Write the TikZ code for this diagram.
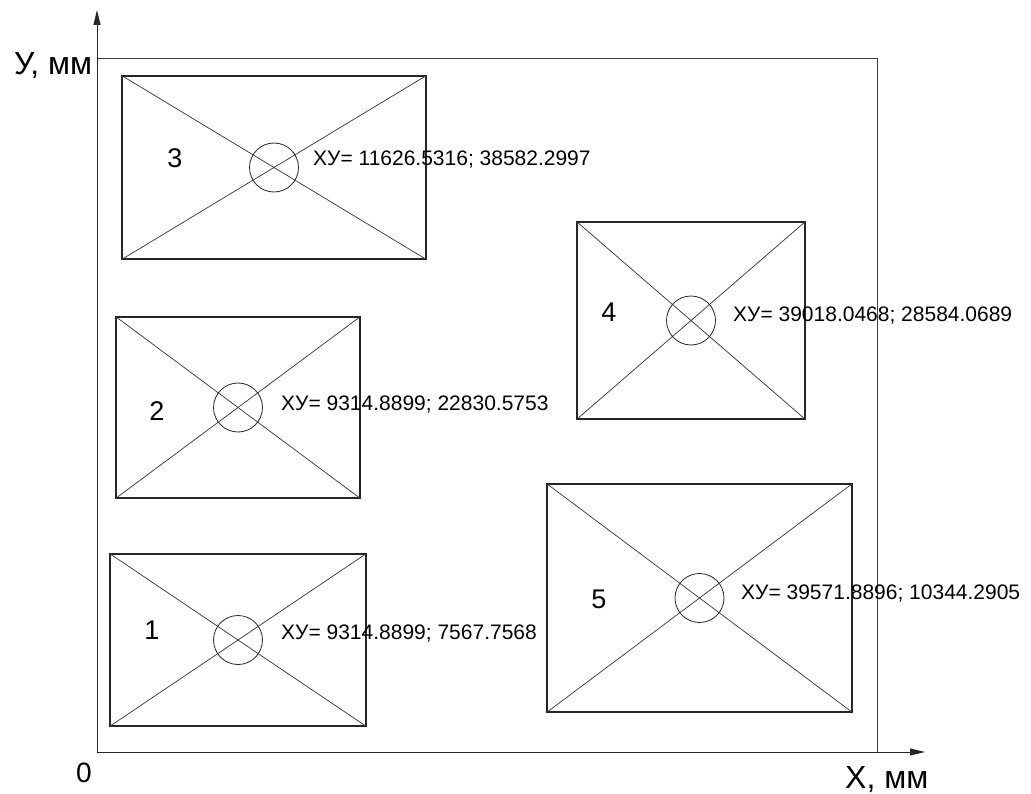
\documentclass[tikz,border=0pt]{standalone}
\usepackage{fontspec}
\setmainfont{Liberation Sans}
\usetikzlibrary{arrows.meta}

\begin{document}
\begin{tikzpicture}[x=1pt, y=-1pt, ->, >={Triangle[length=15pt,width=7pt]},
    zone/.style={draw, rectangle, inner sep=0pt, line width=1.2pt, black!85},
    hub/.style={draw, circle, inner sep=0pt, minimum size=49pt, line width=0.8pt, black!85},
    cross/.style={-, line width=0.7pt, black!80},
    num/.style={anchor=base, inner sep=0pt, font=\fontsize{27}{27}\selectfont},
    coord/.style={anchor=base west, inner sep=0pt, font=\fontsize{21}{21}\selectfont},
    axlabel/.style={anchor=base west, inner sep=0pt, font=\fontsize{32}{32}\selectfont}]
    \useasboundingbox (0,0) rectangle (1031,794);
    % axes and frame
    \coordinate (o) at (97,752);
    \coordinate (ytip) at (97,10);
    \coordinate (xtip) at (925,752);
    \coordinate (corner) at (877,58);
    \draw[-, line width=0.9pt, black!75] (o) rectangle (corner);
    \draw[line width=0.9pt, black!85] (o) -- (ytip);
    \draw[line width=0.9pt, black!85] (o) -- (xtip);
    \node[axlabel] (ylab) at (14,75) {У, мм};
    \node[axlabel] (xlab) at (845,788) {Х, мм};
    \node[axlabel, font=\fontsize{28}{28}\selectfont] (zero) at (76,782) {0};
    % zones
    \node[zone, minimum width=256pt, minimum height=172pt] (z1) at (238,640) {};
    \node[zone, minimum width=244pt, minimum height=181pt] (z2) at (238,407.5) {};
    \node[zone, minimum width=304pt, minimum height=183pt] (z3) at (274,167.5) {};
    \node[zone, minimum width=228pt, minimum height=197pt] (z4) at (691,320.5) {};
    \node[zone, minimum width=305pt, minimum height=228pt] (z5) at (699.5,598) {};
    \foreach \z in {z1,z2,z3,z4,z5} {
        \draw[cross] (\z.north west) -- (\z.south east);
        \draw[cross] (\z.south west) -- (\z.north east);
        \node[hub] (c\z) at (\z.center) {};
    }
    % numbers
    \node[num] (n1) at (152,639) {1};
    \node[num] (n2) at (157,420) {2};
    \node[num] (n3) at (175,168) {3};
    \node[num] (n4) at (609,321.5) {4};
    \node[num] (n5) at (599,608) {5};
    % centre coordinates
    \node[coord] (t1) at (281,639.3) {ХУ= 9314.8899; 7567.7568};
    \node[coord] (t2) at (281,410) {ХУ= 9314.8899; 22830.5753};
    \node[coord] (t3) at (313,166) {ХУ= 11626.5316; 38582.2997};
    \node[coord] (t4) at (733,321.7) {ХУ= 39018.0468; 28584.0689};
    \node[coord] (t5) at (741,599.3) {ХУ= 39571.8896; 10344.2905};
\end{tikzpicture}
\end{document}
